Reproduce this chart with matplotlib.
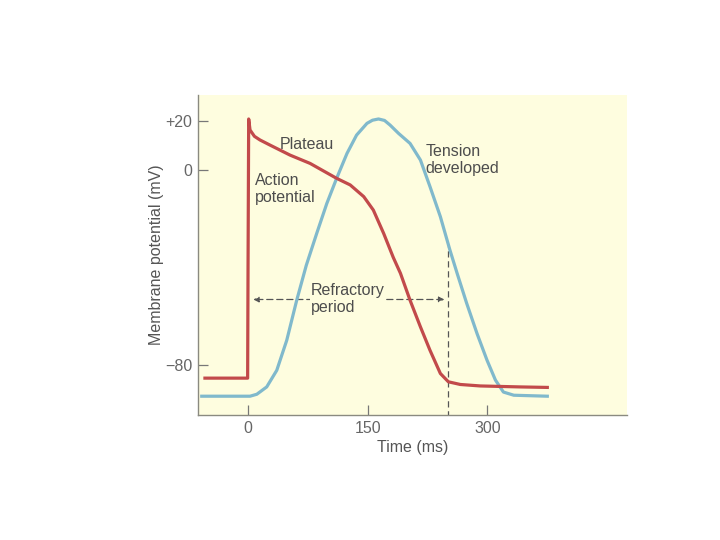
import matplotlib.pyplot as plt

# action potential (mV) vs time (ms)
ap_t = [-54, -0.5, 0, 0.8, 2.5, 8, 15, 27.6, 52.7, 77.8, 111, 128, 145, 157, 170, 182,
        191, 203, 216, 228, 241, 251, 266, 291, 341, 375]
ap_v = [-85.2, -85.2, -40, 20.9, 16.4, 13.8, 12.3, 10.2, 6.1, 2.7, -3.4, -6.1, -10.9, -16.4, -26, -35.8,
        -42.3, -53.3, -64.2, -73.8, -83.3, -86.7, -87.8, -88.4, -88.8, -89]

# tension developed, same axes
te_t = [-58, 2.5, 11, 23.4, 36, 48.5, 61, 73, 86, 98.7, 111, 124, 136, 149, 156, 163.5, 171, 178,
        188.6, 203, 216, 228, 241, 253, 262, 274, 287, 299.5, 310, 320, 333, 375]
te_v = [-92.6, -92.6, -91.8, -88.8, -82, -69.7, -53.3, -39, -26, -13.7, -3.4, 6.8, 14.3, 19.1, 20.4, 20.9, 20.3, 18.4,
        15, 10.9, 4.1, -6.8, -19.1, -32.8, -42.3, -54.6, -67, -77.9, -86, -90.9, -92.2, -92.6]

refractory = [6.5, 246]
refr_level = -53
dash_x = 250
dash_top = -31

BG = '#fefddf'
RED = '#c24a4b'
BLUE = '#80b9cc'
TXT = '#4d4d4d'
FONT = 'Liberation Sans'

plt.rcParams['font.family'] = FONT

fig = plt.figure(figsize=(7.2, 5.4), dpi=100)
ax = fig.add_axes([0.275, 0.231, 0.596, 0.593])
ax.set_facecolor(BG)

ax.plot(te_t, te_v, color=BLUE, lw=2.3, solid_joinstyle='round', zorder=3)
ax.plot(ap_t, ap_v, color=RED, lw=2.3, solid_joinstyle='round', zorder=4)

# refractory period
ax.plot([dash_x, dash_x], [-101, dash_top], color='#555', lw=0.9, ls=(0, (5, 3)), zorder=2)
ax.annotate('', xy=(refractory[0], refr_level), xytext=(refractory[1], refr_level),
            arrowprops=dict(arrowstyle='<|-|>', color='#555', lw=0.9, ls=(0, (5, 3)),
                            mutation_scale=8, shrinkA=0, shrinkB=0), zorder=2)
ax.text(79, refr_level + 0.3, 'Refractory\nperiod', fontsize=11.5, color=TXT, ha='left', va='center',
        linespacing=1.15, zorder=5,
        bbox=dict(boxstyle='square,pad=0.08', fc=BG, ec='none'))

ax.text(40, 10.3, 'Plateau', fontsize=11.5, color=TXT, ha='left', va='center')
ax.text(9, -7.8, 'Action\npotential', fontsize=11.5, color=TXT, ha='left', va='center', linespacing=1.15)
ax.text(222, 4.2, 'Tension\ndeveloped', fontsize=11.5, color=TXT, ha='left', va='center', linespacing=1.15)

ax.set_xlim(-62.7, 475)
ax.set_ylim(-100.4, 30.7)
ax.set_xticks([0, 150, 300])
ax.set_yticks([20, 0, -80])
ax.set_yticklabels(['+20', '0', '\u221280'])
ax.tick_params(direction='in', length=7, width=0.9, colors='#777', labelcolor='#666', labelsize=11.5)
ax.tick_params(axis='x', pad=4)
ax.tick_params(axis='y', pad=4)

for s in ['top', 'right']:
    ax.spines[s].set_visible(False)
for s in ['left', 'bottom']:
    ax.spines[s].set_color('#8a8a80')
    ax.spines[s].set_linewidth(1.0)

ax.set_xlabel('Time (ms)', fontsize=11.5, color='#555', labelpad=3)
ax.set_ylabel('Membrane potential (mV)', fontsize=11.5, color='#555', labelpad=1)

fig.savefig('out.png', dpi=100)
